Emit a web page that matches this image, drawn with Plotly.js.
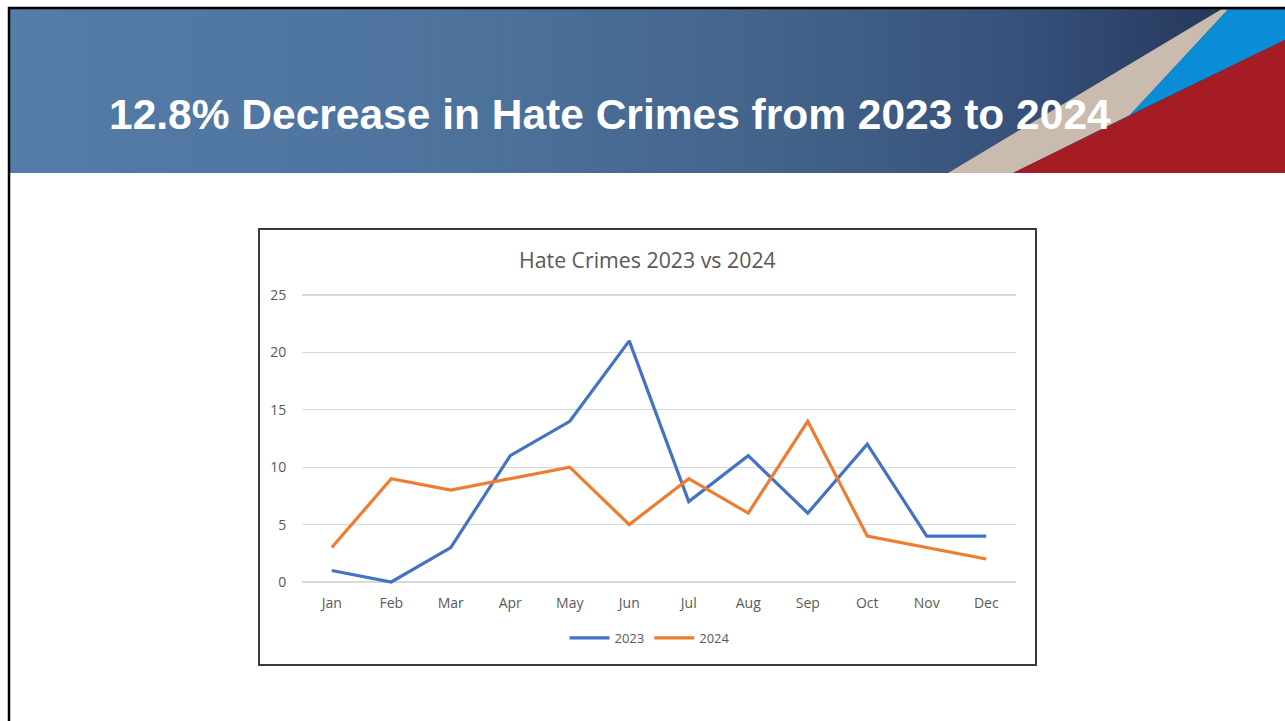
<!DOCTYPE html>
<html>
<head>
<meta charset="utf-8">
<script src="https://cdn.plot.ly/plotly-3.0.1.min.js"></script>
<style>
  html, body { margin:0; padding:0; background:#ffffff; width:1285px; height:721px; overflow:hidden; }
  #banner { position:absolute; left:10px; top:9px; width:1275px; height:164px;
    background: linear-gradient(to right, #537CA7 0%, #4D739D 35%, #43638A 60%, #36507A 80%, #25365A 96%); }
  #plot { position:absolute; left:0; top:0; width:1285px; height:721px; }
</style>
</head>
<body>
<div id="banner"></div>
<div id="plot"></div>
<script>
const months = ["Jan","Feb","Mar","Apr","May","Jun","Jul","Aug","Sep","Oct","Nov","Dec"];
const crimes2023 = [1, 0, 3, 11, 14, 21, 7, 11, 6, 12, 4, 4];
const crimes2024 = [3, 9, 8, 9, 10, 5, 9, 6, 14, 4, 3, 2];
const yTicks = [0, 5, 10, 15, 20, 25];
const slideTitle = "12.8% Decrease in Hate Crimes from 2023 to 2024";
const chartTitle = "Hate Crimes 2023 vs 2024";

const W = 1285, H = 721;
const px = x => x / W;
const py = y => 1 - y / H;
const path = pts => "M " + pts.map(p => px(p[0]) + "," + py(p[1])).join(" L ") + " Z";

const traces = [
  { x: months, y: crimes2023, name: "2023", type: "scatter", mode: "lines",
    line: { color: "#4472C4", width: 3.2 } },
  { x: months, y: crimes2024, name: "2024", type: "scatter", mode: "lines",
    line: { color: "#ED7D31", width: 3.2 } }
];

const pad = 0.25;            // padding so the 0 and 25 grid lines are drawn
const unit = (582 - 295) / 25;

const layout = {
  width: W, height: H,
  margin: { l: 0, r: 0, t: 0, b: 0 },
  paper_bgcolor: "rgba(0,0,0,0)",
  plot_bgcolor: "rgba(0,0,0,0)",
  showlegend: true,
  legend: { orientation: "h", x: px(650), xanchor: "center", y: py(638), yanchor: "middle",
    font: { family: "Open Sans, Lato, sans-serif", size: 13, color: "#595959" },
    itemwidth: 40, bgcolor: "rgba(0,0,0,0)", traceorder: "normal" },
  xaxis: { domain: [px(302), px(1016)], range: [-0.5, 11.5], type: "category",
    showgrid: false, zeroline: false, showline: false,
    ticks: "outside", ticklen: 5, tickcolor: "rgba(0,0,0,0)",
    tickfont: { family: "Open Sans, Lato, sans-serif", size: 14, color: "#595959" },
    anchor: "y", fixedrange: true },
  yaxis: { domain: [py(582 + pad * unit), py(295 - pad * unit)], range: [-pad, 25 + pad], tickvals: yTicks,
    showgrid: true, gridcolor: "#D9D9D9", gridwidth: 1.3, zeroline: false, showline: false,
    ticks: "outside", ticklen: 12, tickcolor: "rgba(0,0,0,0)",
    tickfont: { family: "Open Sans, Lato, sans-serif", size: 14, color: "#595959" },
    fixedrange: true },
  shapes: [
    { type: "line", xref: "paper", yref: "paper", x0: px(9), x1: px(9), y0: py(7), y1: py(721),
      line: { color: "#000000", width: 2.5 } },
    { type: "line", xref: "paper", yref: "paper", x0: px(8), x1: px(1285), y0: py(8), y1: py(8),
      line: { color: "#000000", width: 2.5 } },
    { type: "path", xref: "paper", yref: "paper", layer: "below",
      path: path([[948,173],[1221,9.5],[1228,9.5],[1130,115],[1013,173]]),
      fillcolor: "#C9BBAE", line: { width: 0 } },
    { type: "path", xref: "paper", yref: "paper", layer: "below",
      path: path([[1130,115],[1228,9.5],[1285,9.5],[1285,40]]),
      fillcolor: "#0B8CD6", line: { width: 0 } },
    { type: "path", xref: "paper", yref: "paper", layer: "below",
      path: path([[1013,173],[1285,40],[1285,173]]),
      fillcolor: "#A51C24", line: { width: 0 } },
    { type: "rect", xref: "paper", yref: "paper", x0: px(259), x1: px(1036), y0: py(229), y1: py(665),
      line: { color: "#3A3A3A", width: 2 }, fillcolor: "rgba(0,0,0,0)" }
  ],
  annotations: [
    { text: slideTitle, xref: "paper", yref: "paper", x: px(107), y: py(114),
      xanchor: "left", yanchor: "middle", showarrow: false,
      font: { family: "Liberation Sans, Arial, sans-serif", size: 42.5, color: "#FFFFFF", weight: "bold" } },
    { text: chartTitle, xref: "paper", yref: "paper", x: px(647), y: py(259),
      xanchor: "center", yanchor: "middle", showarrow: false,
      font: { family: "Open Sans, Lato, sans-serif", size: 21.3, color: "#595959" } }
  ]
};

Plotly.newPlot("plot", traces, layout, { displayModeBar: false, staticPlot: true });
</script>
</body>
</html>
